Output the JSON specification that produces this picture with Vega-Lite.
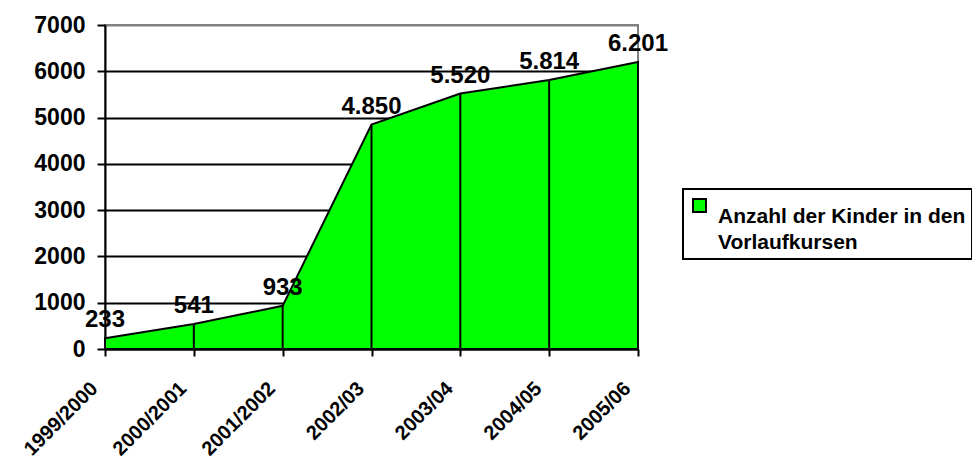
{
  "$schema": "https://vega.github.io/schema/vega-lite/v6.json",
  "width": 533,
  "height": 324,
  "autosize": {"type": "none"},
  "padding": {"left": 105, "top": 25, "right": 334, "bottom": 113},
  "background": "white",
  "config": {
    "font": "Liberation Sans",
    "view": {"stroke": "#808080", "strokeWidth": 2},
    "legend": {"strokeWidth": 2},
    "locale": {
      "number": {"decimal": ",", "thousands": ".", "grouping": [3], "currency": ["", " €"]}
    }
  },
  "data": {
    "values": [
      {"jahr": "1999/2000", "kinder": 233, "reihe": "Anzahl der Kinder in den Vorlaufkursen"},
      {"jahr": "2000/2001", "kinder": 541, "reihe": "Anzahl der Kinder in den Vorlaufkursen"},
      {"jahr": "2001/2002", "kinder": 933, "reihe": "Anzahl der Kinder in den Vorlaufkursen"},
      {"jahr": "2002/03", "kinder": 4850, "reihe": "Anzahl der Kinder in den Vorlaufkursen"},
      {"jahr": "2003/04", "kinder": 5520, "reihe": "Anzahl der Kinder in den Vorlaufkursen"},
      {"jahr": "2004/05", "kinder": 5814, "reihe": "Anzahl der Kinder in den Vorlaufkursen"},
      {"jahr": "2005/06", "kinder": 6201, "reihe": "Anzahl der Kinder in den Vorlaufkursen"}
    ]
  },
  "encoding": {
    "x": {
      "field": "jahr",
      "type": "ordinal",
      "sort": null,
      "scale": {"type": "point", "padding": 0},
      "axis": {
        "title": null,
        "grid": false,
        "labelAngle": -45,
        "labelFontSize": 20,
        "labelFontWeight": "bold",
        "labelColor": "black",
        "labelPadding": 22,
        "labelOffset": -18,
        "domainColor": "black",
        "domainWidth": 2,
        "tickColor": "black",
        "tickWidth": 2,
        "tickSize": 7
      }
    },
    "y": {
      "field": "kinder",
      "type": "quantitative",
      "scale": {"domain": [0, 7000], "nice": false},
      "axis": {
        "title": null,
        "values": [0, 1000, 2000, 3000, 4000, 5000, 6000, 7000],
        "format": "d",
        "labelFontSize": 23,
        "labelFontWeight": "bold",
        "labelColor": "black",
        "labelPadding": 12,
        "domainColor": "black",
        "domainWidth": 2,
        "tickColor": "black",
        "tickWidth": 2,
        "tickSize": 8,
        "gridWidth": 2,
        "gridColor": {"condition": {"test": "datum.value == 7000", "value": "#808080"}, "value": "black"}
      }
    }
  },
  "layer": [
    {
      "mark": {"type": "area", "stroke": "black", "strokeWidth": 2, "fillOpacity": 1},
      "encoding": {
        "fill": {
          "field": "reihe",
          "type": "nominal",
          "scale": {"range": ["#00ff00"]},
          "legend": {
            "title": null,
            "orient": "none",
            "legendX": 578,
            "legendY": 164,
            "fillColor": "white",
            "strokeColor": "black",
            "padding": 6,
            "symbolType": "square",
            "symbolSize": 169,
            "symbolFillColor": "#00ff00",
            "symbolStrokeColor": "black",
            "symbolStrokeWidth": 2,
            "symbolOpacity": 1,
            "labelOffset": 8,
            "labelFontSize": 21,
            "labelFontWeight": "bold",
            "labelColor": "black",
            "labelLimit": 400,
            "labelBaseline": "top",
            "labelExpr": "['Anzahl der Kinder in den', 'Vorlaufkursen']",
            "encode": {
              "labels": {"update": {"lineHeight": {"value": 26}}}
            }
          }
        }
      }
    },
    {
      "mark": {"type": "rule", "color": "black", "strokeWidth": 2},
      "encoding": {"y2": {"datum": 0}}
    },
    {
      "mark": {"type": "text", "fontSize": 24, "fontWeight": "bold", "color": "black", "baseline": "alphabetic", "dy": -11},
      "encoding": {"text": {"field": "kinder", "type": "quantitative", "format": ",d"}}
    }
  ]
}
